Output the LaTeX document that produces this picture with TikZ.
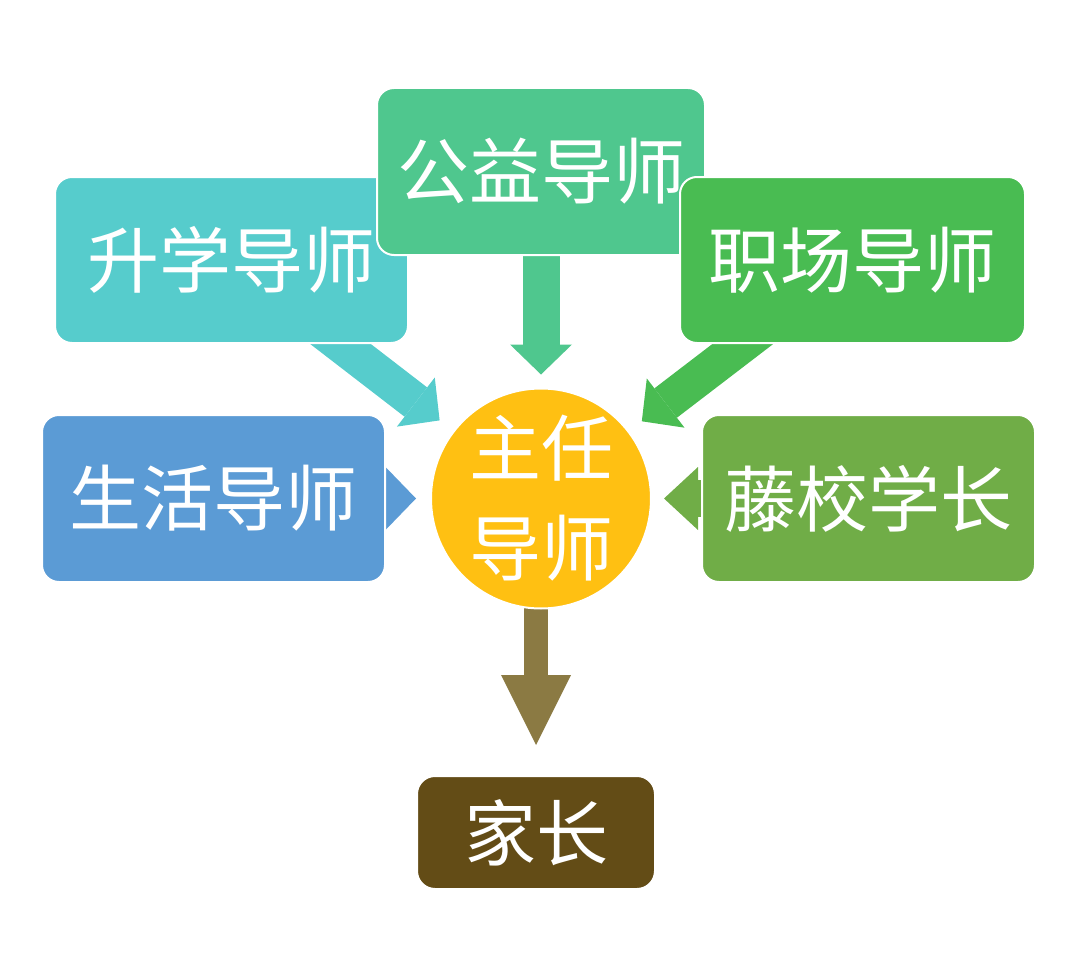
\documentclass[tikz,border=0pt]{standalone}
\usepackage{fontspec}
\newfontfamily\cjk{Noto Sans CJK SC}
\usetikzlibrary{arrows.meta,positioning,calc}
\definecolor{shengxuecol}{HTML}{56CCCC}
\definecolor{gongyicol}{HTML}{4FC78E}
\definecolor{zhichangcol}{HTML}{49BC52}
\definecolor{shenghuocol}{HTML}{5B9BD5}
\definecolor{tengxiaocol}{HTML}{70AD47}
\definecolor{hubcol}{HTML}{FFC012}
\definecolor{jiazhangcol}{HTML}{634C16}
\definecolor{jiaarrowcol}{HTML}{8B7A43}
\pgfdeclarelayer{background}
\pgfsetlayers{background,main}
\tikzset{
    % Mentor box style
    mentor/.style={rectangle,rounded corners=17pt,draw=white,line width=2pt,
        text=white,inner sep=0pt,font=\cjk\fontsize{72}{96}\selectfont},
    % Central circle style
    hub/.style={circle,draw=white,line width=2pt,fill=hubcol,minimum size=220pt,
        inner sep=0pt,text=white,align=center,font=\cjk\fontsize{72}{100}\selectfont},
    % Block arrow
    blockarrow/.style={line width=37pt,-{Triangle[length=30pt,width=62pt,line width=0pt]}}
}
\begin{document}
\begin{tikzpicture}[x=1pt,y=-1pt]
    \useasboundingbox (0,0) rectangle (1080,958);

    % Upper mentors
    \node[mentor, fill=shengxuecol, minimum width=353pt, minimum height=166pt] (shengxue) at (231.5,260) {升学导师};
    \node[mentor, fill=gongyicol, minimum width=328pt, minimum height=167pt] (gongyi) at (541,171.5) {公益导师};
    \node[mentor, fill=zhichangcol, minimum width=345pt, minimum height=166pt] (zhichang) at (852.5,260) {职场导师};

    % Side mentors
    \node[mentor, fill=shenghuocol, minimum width=343pt, minimum height=167pt] (shenghuo) at (213.5,498.5) {生活导师};
    \node[mentor, fill=tengxiaocol, minimum width=333pt, minimum height=167pt] (tengxiao) at (868.5,498.5) {藤校学长};

    % Head mentor (center)
    \node[hub] (zhuren) at (541,498.5) {主任\\导师};

    % Parents
    \node[mentor, rounded corners=18pt, fill=jiazhangcol, minimum width=238pt, minimum height=113pt] (jiazhang) at (536,832.5) {家长};

    % Block arrows behind the shapes
    \begin{pgfonlayer}{background}
        \draw[blockarrow, shengxuecol, shorten >=17pt] (shengxue.center) -- (zhuren);
        \draw[blockarrow, gongyicol, shorten >=13pt] (gongyi.center) -- (zhuren);
        \draw[blockarrow, zhichangcol, shorten >=16pt] (zhichang.center) -- (zhuren);
        \draw[blockarrow, shenghuocol, shorten >=14pt] (shenghuo.center) -- (zhuren);
        \draw[blockarrow, tengxiaocol, -{Triangle[length=34pt,width=63pt,line width=0pt]}, shorten >=12pt]
            (tengxiao.center) -- (zhuren);
        % Down to the parents
        \draw[line width=24pt, jiaarrowcol, -{Triangle[length=70pt,width=70pt,line width=0pt]}, shorten >=30pt]
            (jiazhang.north |- zhuren.center) -- (jiazhang.north);
    \end{pgfonlayer}
\end{tikzpicture}
\end{document}
